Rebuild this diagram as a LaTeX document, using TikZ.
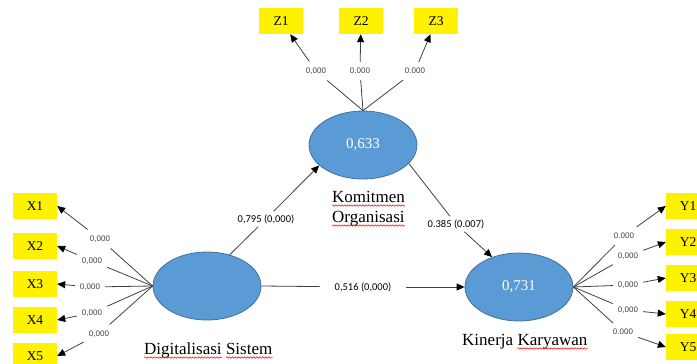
\documentclass[tikz,border=0pt]{standalone}
\usepackage{fontspec}
\setmainfont{Liberation Serif}
\newfontfamily\calibri{Carlito}
\newfontfamily\arialf{Liberation Sans}
\usetikzlibrary{arrows.meta,positioning,shapes.geometric,decorations.pathmorphing}
\definecolor{lvblue}{HTML}{5B9BD5}
\definecolor{lvborder}{HTML}{41719C}
\definecolor{lngray}{HTML}{404040}
\tikzset{
  ind/.style={fill=yellow, minimum width=44pt, minimum height=26pt, inner sep=0pt, font=\fontsize{13.5}{13.5}\selectfont},
  lv/.style={ellipse, fill=lvblue, draw=lvborder, line width=0.8pt, minimum width=108pt, minimum height=68pt, inner sep=0pt, text=white, font=\fontsize{15}{15}\selectfont},
  lbl/.style={fill=white, inner xsep=5pt, inner ysep=6pt, text=black!75, font=\arialf\fontsize{8}{8}\selectfont},
  coef/.style={fill=white, inner xsep=4pt, inner ysep=3pt, font=\calibri\fontsize{10.5}{10.5}\selectfont},
  word/.style={inner sep=0pt, font=\fontsize{17}{17}\selectfont},
  wavy/.style={draw=red, line width=0.5pt, decorate, decoration={snake, segment length=3pt, amplitude=0.7pt}},
  load/.style={draw=lngray, line width=0.8pt},
  tip/.style={-{Triangle[length=8pt,width=7pt,color=black]}}
}
\begin{document}
\begin{tikzpicture}[x=1pt,y=-1pt]
\useasboundingbox (0,0) rectangle (697,364);
\clip (0,0) rectangle (697,364);

% latent variables
\node[lv] (KO) at (363,145) {0,633};
\node[lv] (DS) at (207,286) {};
\node[lv] (KK) at (519,287) {0,731};

% indicators
\node[ind] (Z1) at (281,21) {Z1};
\node[ind] (Z2) at (361,21) {Z2};
\node[ind] (Z3) at (436,21) {Z3};
\node[ind] (X1) at (35,206) {X1};
\node[ind] (X2) at (35,246) {X2};
\node[ind] (X3) at (35,284) {X3};
\node[ind] (X4) at (35,320) {X4};
\node[ind] (X5) at (35,356) {X5};
\node[ind] (Y1) at (688,206) {Y1};
\node[ind] (Y2) at (688,242) {Y2};
\node[ind] (Y3) at (688,278) {Y3};
\node[ind] (Y4) at (688,314) {Y4};
\node[ind] (Y5) at (688,347) {Y5};

% loadings
\node[lbl] (lz1) at (316,71) {0,000};
\node[lbl] (lz2) at (360,71) {0.000};
\node[lbl] (lz3) at (415,71) {0.000};
\node[lbl] (lx1) at (100,239) {0,000};
\node[lbl] (lx2) at (92,261) {0,000};
\node[lbl] (lx3) at (90,287) {0,000};
\node[lbl] (lx4) at (92,313) {0,000};
\node[lbl] (lx5) at (99,334) {0,000};
\node[lbl] (ly1) at (624,236) {0.000};
\node[lbl] (ly2) at (628,256) {0,000};
\node[lbl] (ly3) at (628,285) {0,000};
\node[lbl] (ly4) at (628,310) {0,000};
\node[lbl] (ly5) at (623,332) {0.000};

\foreach \i in {1,2,3}{
  \draw[load] (KO.north) -- (lz\i);
  \draw[load,tip] (lz\i) -- (Z\i);
}
\foreach \i in {1,...,5}{
  \draw[load] (DS.west) -- (lx\i);
  \draw[load,tip] (lx\i) -- (X\i.east);
  \draw[load] (KK.east) -- (ly\i);
  \draw[load,tip] (ly\i) -- (Y\i.west);
}

% paths
\node[coef] (c1) at (266,219) {0,795 (0,000)};
\node[coef] (c2) at (456,224) {0.385 (0.007)};
\node[coef, inner xsep=15pt] (c3) at (363,287) {0,516 (0,000)};
\draw[load] (DS.54) -- (c1);
\draw[load,tip] (c1) -- (KO.205);
\draw[load] (KO.-22) -- (c2);
\draw[load,tip] (c2) -- (KK.132);
\draw[load] (DS.east) -- (c3);
\draw[load,tip] (c3) -- (KK.west);

% names
\node[word, anchor=base west] (w1) at (332,202) {Komitmen};
\node[word, anchor=base west] (w2) at (332,222) {Organisasi};
\node[word, anchor=base west] (w3) at (144,354) {Digitalisasi};
\node[word, base right=4pt of w3] (w4) {Sistem};
\node[word, anchor=base west] (w5) at (462,345) {Kinerja};
\node[word, base right=4pt of w5] (w6) {Karyawan};
\foreach \w in {w1,w2,w3,w4,w6}
  \draw[wavy] ([yshift=-3.5pt]\w.base west) -- ([yshift=-3.5pt]\w.base east);
\end{tikzpicture}
\end{document}
